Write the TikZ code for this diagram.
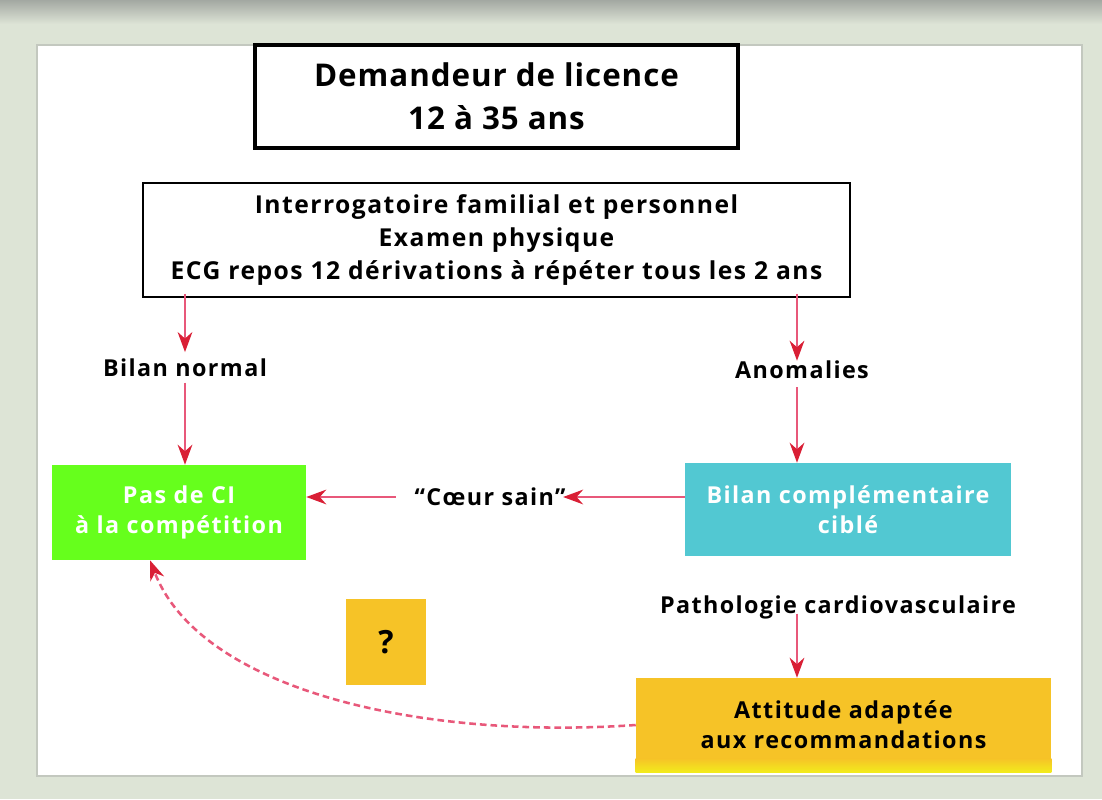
\documentclass[tikz,border=0pt]{standalone}
\usepackage{fontspec}
\setmainfont{Open Sans}
\usetikzlibrary{arrows.meta,positioning}
\definecolor{bgout}{HTML}{DDE4D6}
\definecolor{shadowc}{HTML}{A3A8A2}
\definecolor{panelline}{HTML}{C3C8BF}
\definecolor{redarrow}{HTML}{D91F35}
\definecolor{pinkline}{HTML}{E8587A}
\definecolor{greenbox}{HTML}{66FF1C}
\definecolor{cyanbox}{HTML}{52C8D2}
\definecolor{orangebox}{HTML}{F6C327}
\definecolor{yellowend}{HTML}{F2EC1C}
\newcommand{\lsp}{\addfontfeature{LetterSpace=6}}
\tikzset{
  x=0.75pt, y=-0.75pt,
  lbl/.style={font=\fontsize{17.5}{22}\selectfont\bfseries\lsp, text=black, inner sep=2pt},
  boxtxt/.style={font=\fontsize{17.5}{22.5}\selectfont\bfseries\lsp, align=center},
  conn/.style={draw=pinkline, line width=1.7pt, -{Stealth[length=15pt,width=11pt,color=redarrow]}},
  dconn/.style={draw=pinkline, line width=1.9pt, dash pattern=on 5pt off 3pt, -{Stealth[length=15pt,width=11pt,color=redarrow]}}
}
\begin{document}
\begin{tikzpicture}
\useasboundingbox (0,0) rectangle (1102,799);
% background
\fill[bgout] (0,0) rectangle (1102,799);
\shade[top color=shadowc, bottom color=bgout] (0,0) rectangle (1102,24);
\fill[white] (37,45) rectangle (1082,776);
\draw[panelline, line width=1pt] (37,45) rectangle (1082,776);

% nodes
\node[draw=black, line width=2.4pt, minimum width=483*0.75pt, minimum height=103*0.75pt,
      font=\fontsize{23.5}{32}\selectfont\bfseries\addfontfeature{LetterSpace=3}, align=center, inner sep=0pt] (top) at (496.5,96.5)
      {Demandeur de licence\\12 à 35 ans};
\node[draw=black, line width=1.4pt, minimum width=707*0.75pt, minimum height=114*0.75pt,
      font=\fontsize{18.5}{24.5}\selectfont\bfseries\lsp, align=center, inner sep=0pt] (exam) at (496.5,240)
      {Interrogatoire familial et personnel\\Examen physique\\ECG repos 12 dérivations à répéter tous les 2 ans};

\node[lbl] (normal) at (185,368) {Bilan normal};
\node[lbl] (anom) at (802,370) {Anomalies};

\node[fill=greenbox, minimum width=254*0.75pt, minimum height=95*0.75pt, text=white, boxtxt, inner sep=0pt] (ok) at (179,512.5)
      {Pas de CI\\à la compétition};
\node[fill=cyanbox, minimum width=326*0.75pt, minimum height=93*0.75pt, text=white, boxtxt, inner sep=0pt] (compl) at (848,509.5)
      {Bilan complémentaire\\ciblé};
\node[lbl] (sain) at (490,497) {“Cœur sain”};
\node[lbl] (patho) at (838,607) {Pathologie cardiovasculaire};
\node[fill=orangebox, minimum width=415*0.75pt, minimum height=94*0.75pt,
      text=black, boxtxt, inner sep=0pt] (att) at (843.5,725)
      {Attitude adaptée\\aux recommandations};
\shade[top color=orangebox, bottom color=yellowend] (att.south west) ++(0,-14) rectangle (att.south east);
\node[fill=orangebox, minimum width=80*0.75pt, minimum height=86*0.75pt, text=black,
      font=\fontsize{24}{28}\selectfont\bfseries, inner sep=0pt] (q) at (386,642) {?};

% connectors
\draw[conn] (exam.south -| 185,0) ++(0,3pt) -- ([yshift=3pt]normal.north -| 185,0);
\draw[conn] ([yshift=-2pt]normal.south -| 185,0) -- (ok.north -| 185,0);
\draw[conn] (exam.south -| 797,0) ++(0,3pt) -- ([yshift=-2pt]anom.north -| 797,0);
\draw[conn] ([yshift=-4pt]anom.south -| 797,0) -- (compl.north -| 797,0);
\draw[conn] (compl.west |- sain) -- ([xshift=-4pt]sain.east);
\draw[conn] ([xshift=-12pt]sain.west) -- (ok.east |- sain);
\draw[conn] (patho.south -| 797,0) ++(0,6pt) -- (att.north -| 797,0);
\draw[dconn] (att.west) .. controls (420,740) and (200,690) .. ([xshift=-29*0.75pt]ok.south);
\end{tikzpicture}
\end{document}
